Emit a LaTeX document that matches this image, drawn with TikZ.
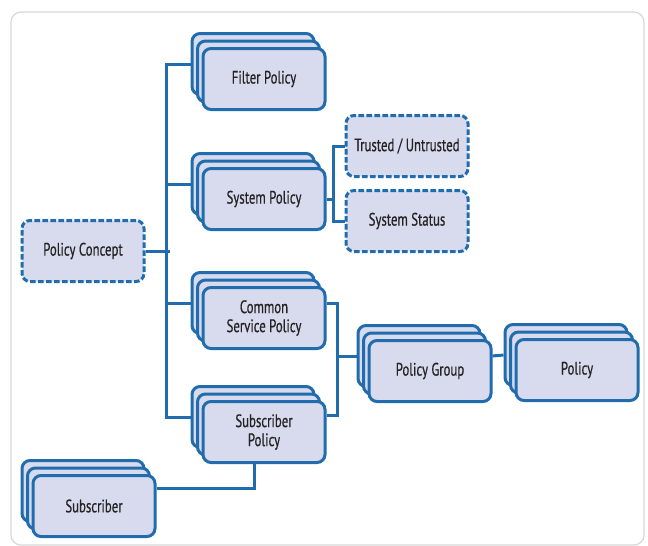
\documentclass[tikz,border=0pt]{standalone}
\usepackage{fontspec}
\setmainfont[FakeStretch=0.71,FakeBold=0.6]{PT Sans}
\usepackage{tikz}
\usetikzlibrary{shadows,calc}
\definecolor{boxline}{RGB}{32,108,172}
\definecolor{boxfill}{RGB}{216,219,238}
\definecolor{framegray}{RGB}{215,215,215}
\definecolor{textdark}{RGB}{35,35,35}

\begin{document}
\begin{tikzpicture}[x=0.5pt,y=-0.5pt,
  box/.style={draw=boxline,fill=boxfill,line width=1.5pt,rounded corners=4pt,
    minimum width=61pt,minimum height=30.5pt,align=center,text=textdark,
    font=\fontsize{9}{9.5}\selectfont},
  stackbox/.style={box,
    general shadow={shadow scale=1,shadow xshift=-5.5pt,shadow yshift=7.5pt,
      fill=boxfill,draw=boxline,line width=1.5pt},
    general shadow={shadow scale=1,shadow xshift=-2.75pt,shadow yshift=3.75pt,
      fill=boxfill,draw=boxline,line width=1.5pt}},
  dashbox/.style={box,dash pattern=on 2.8pt off 1.2pt},
  link/.style={draw=boxline,line width=1.5pt}]
\useasboundingbox (0,0) rectangle (648,546);
\draw[framegray,line width=0.6pt,rounded corners=5pt] (11,12) rectangle (644,545);

\node[dashbox] (concept) at (83,251) {Policy Concept};
\node[stackbox] (filter) at (264,79) {Filter Policy};
\node[stackbox] (syspol) at (264,199) {System Policy};
\node[dashbox] (trust) at (407,146) {Trusted / Untrusted};
\node[dashbox] (status) at (407,221) {System Status};
\node[stackbox] (common) at (264,318) {Common\\Service Policy};
\node[stackbox] (subpol) at (264,432) {Subscriber\\Policy};
\node[stackbox] (group) at (430,371) {Policy Group};
\node[stackbox] (policy) at (577,370) {Policy};
\node[stackbox] (subscr) at (94,506) {Subscriber};

\coordinate (fb) at ([shift={(-5.5pt,7.5pt)}]filter.west);
\coordinate (sb) at ([shift={(-5.5pt,7.5pt)}]syspol.west);
\coordinate (cb) at ([shift={(-5.5pt,7.5pt)}]common.west);
\coordinate (ub) at ([shift={(-5.5pt,7.5pt)}]subpol.west);
\coordinate (gb) at ([shift={(-5.5pt,7.5pt)}]group.west);
\coordinate (pb) at ([shift={(-5.5pt,7.5pt)}]policy.west);

\draw[link] (concept.east) -- ++(24,0);
\draw[link] (fb) -- ++(-24,0) |- (ub);
\draw[link] (sb) -- ++(-24,0);
\draw[link] (cb) -- ++(-24,0);

\draw[link] (syspol.east) -- ++(7,0) coordinate (sj) |- (trust.west);
\draw[link] (sj) |- (status.west);

\draw[link] ([yshift=7.5pt]common.east) -- ++(11,0) coordinate (cj)
  |- ([yshift=8.5pt]subpol.east);
\draw[link] (gb) -- (gb -| cj);
\draw[link] ([yshift=7.5pt]group.east) -- (pb);

\draw[link] ([xshift=-5pt]subpol.south) |- ([yshift=9pt]subscr.east);
\end{tikzpicture}
\end{document}
